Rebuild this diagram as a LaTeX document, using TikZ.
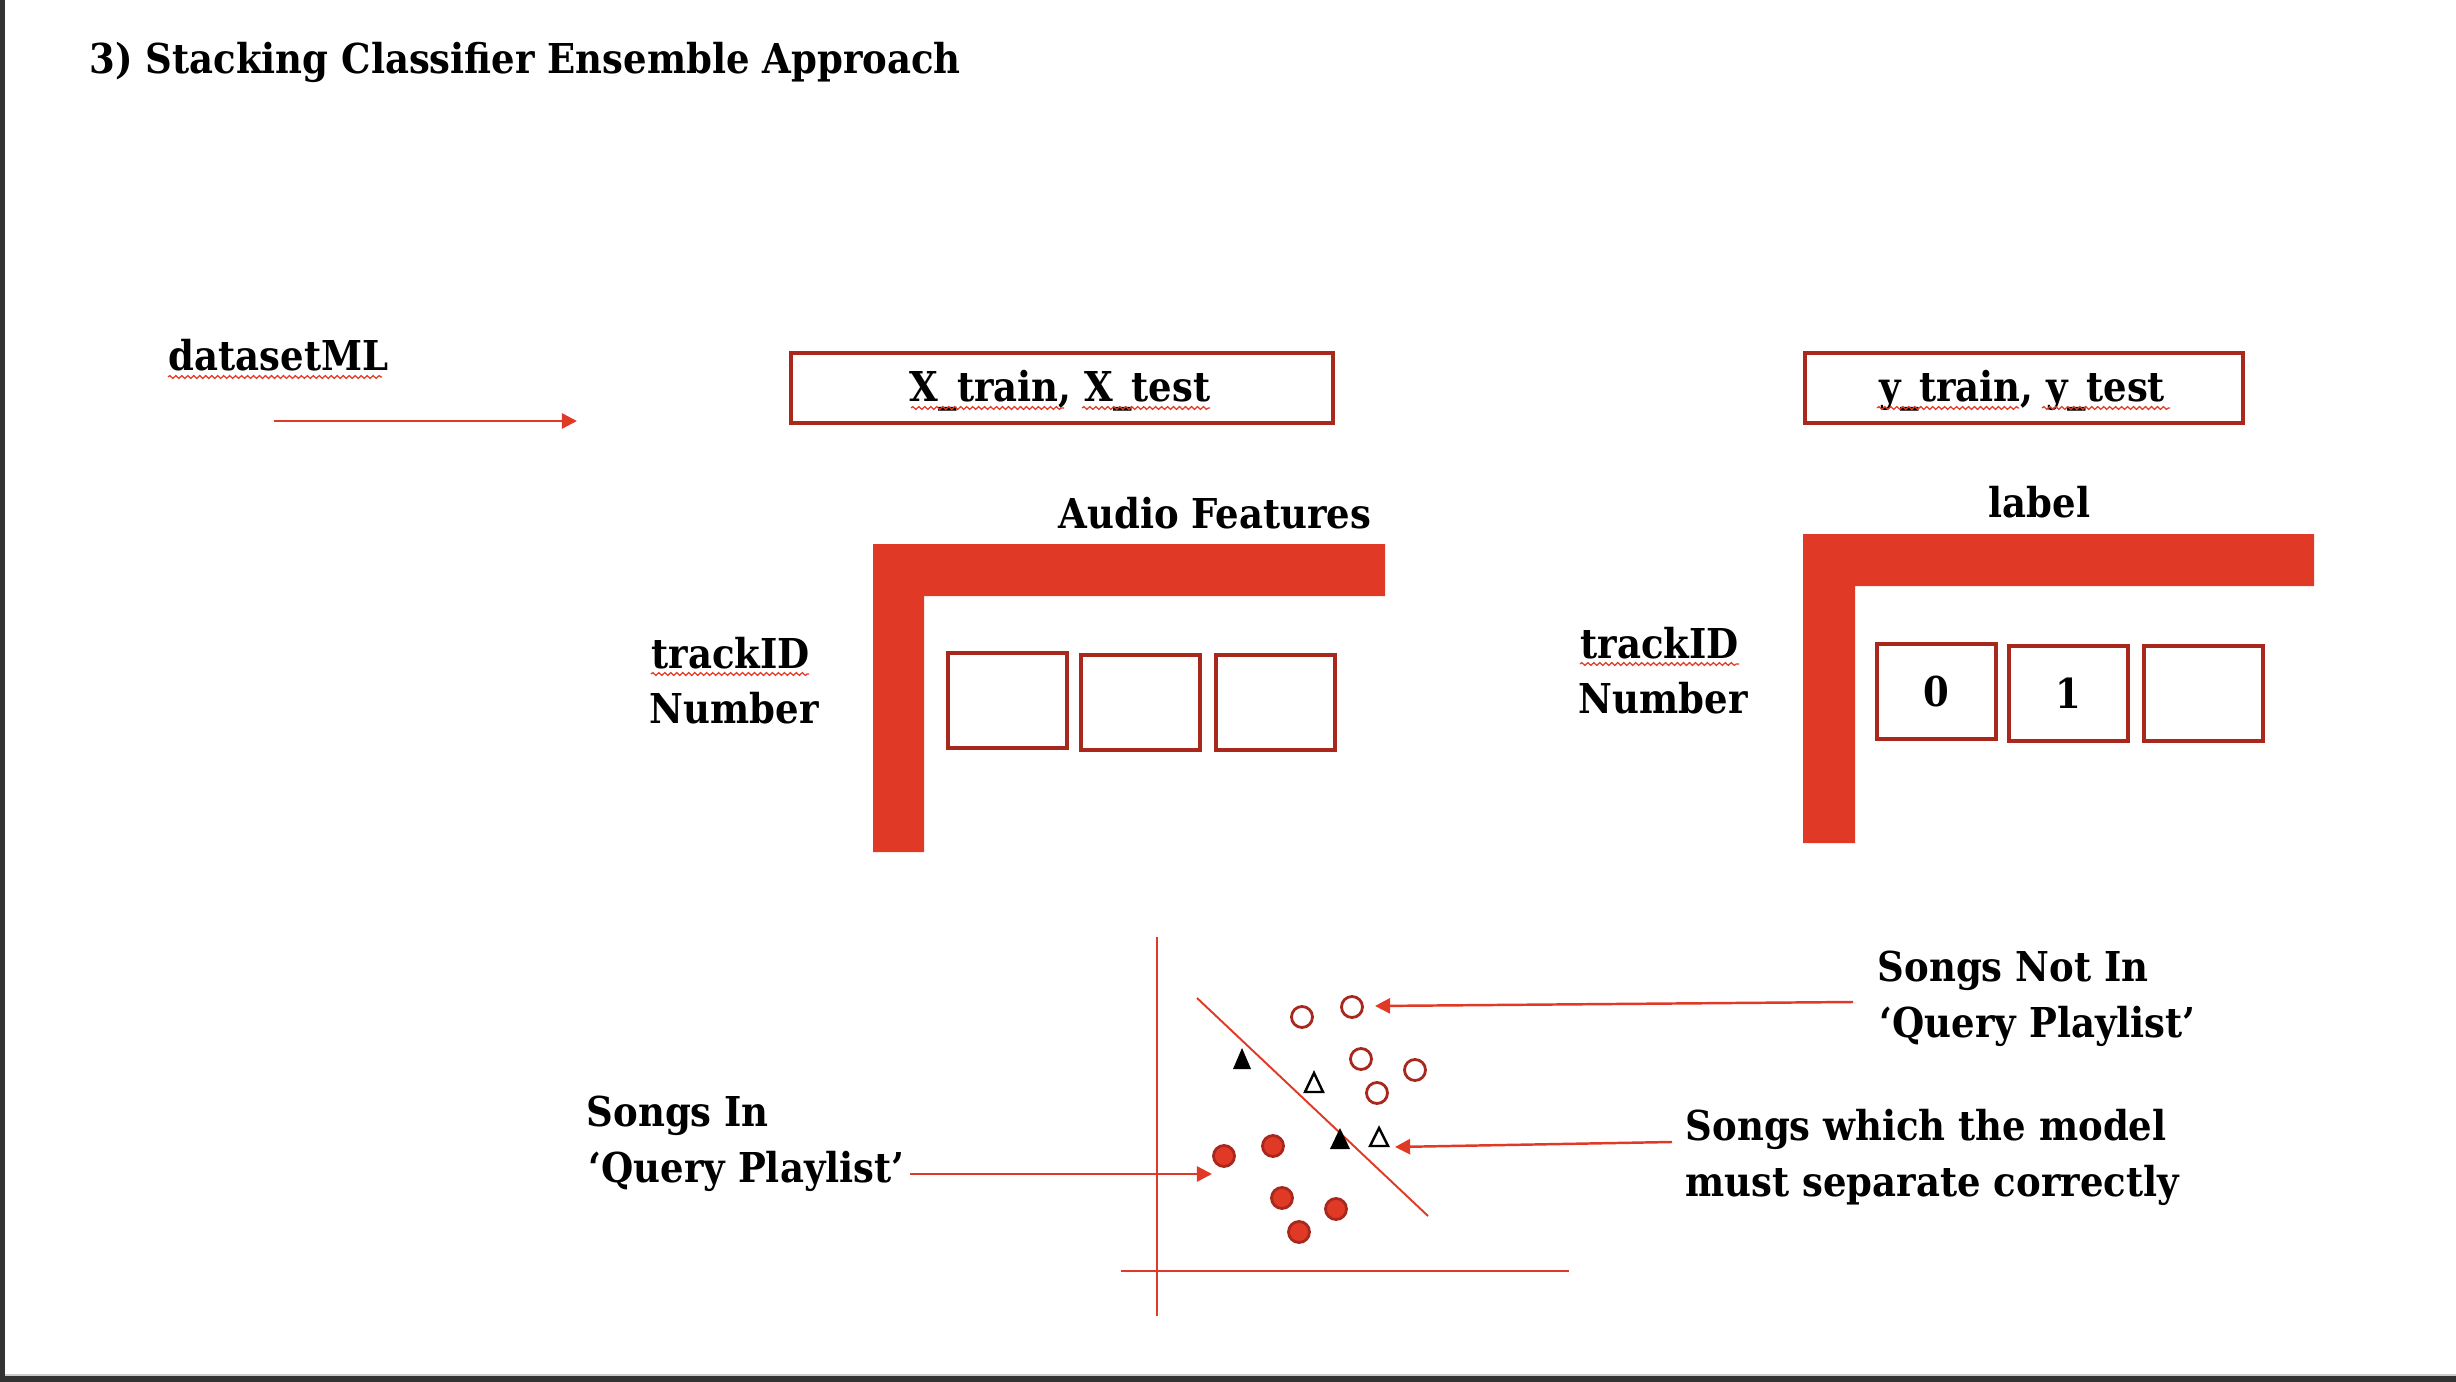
\documentclass[tikz,border=0pt]{standalone}
\usepackage{fontspec}
\setmainfont{DejaVu Serif Condensed}
\usetikzlibrary{arrows.meta,decorations.pathmorphing}
\definecolor{lred}{RGB}{224,58,38}
\definecolor{dred}{RGB}{168,40,30}
\definecolor{framegray}{RGB}{51,51,51}
\begin{document}
\begin{tikzpicture}[x=0.01cm,y=-0.01cm,
  txt/.style={anchor=base west,inner sep=0,font=\fontsize{11.7}{14}\selectfont\bfseries},
  ctxt/.style={txt,anchor=base},
  redline/.style={draw=lred,line width=0.7pt},
  arr/.style={redline,-{Triangle[length=4.3pt,width=4.3pt]}},
  cell/.style={draw=dred,line width=1pt,fill=white,inner sep=0,anchor=north west,
    minimum width=1.19cm,minimum height=0.95cm,font=\fontsize{11.7}{14}\selectfont\bfseries},
  hbox/.style={draw=dred,line width=1pt,inner sep=0,anchor=north west,minimum height=0.70cm},
  squig/.style={draw=lred,line width=0.35pt,decorate,decoration={snake,amplitude=0.4pt,segment length=1.7pt}},
  opendot/.style={draw=dred,line width=0.8pt,fill=white},
  fulldot/.style={draw=dred,line width=0.8pt,fill=lred},
  opentri/.style={draw=black,line width=0.7pt,fill=white,line join=miter},
  ]
\useasboundingbox (0,0) rectangle (2456,1382);
\fill[white] (0,0) rectangle (2456,1382);
\fill[framegray] (0,0) rectangle (5,1382);
\fill[framegray] (0,1376) rectangle (2456,1382);
\fill[gray!40] (5,1374) rectangle (2456,1376);

% title
\node[txt] (title) at (89,74) {3) Stacking Classifier Ensemble Approach};

% datasetML
\node[txt] (ds) at (168,370) {datasetML};
\draw[squig] (168,377) -- (382,377);
\coordinate (ds1) at (274,421);
\coordinate (ds2) at (577,421);
\draw[arr] (ds1) -- (ds2);

% X box
\node[hbox,minimum width=5.42cm] (xbox) at (789,351) {};
\node[ctxt] (xtxt) at (1060,402) {X\_train, X\_test};
\draw[squig] (911,408) -- (1064,408);
\draw[squig] (1082,408) -- (1210,408);

% y box
\node[hbox,minimum width=4.38cm] (ybox) at (1803,351) {};
\node[ctxt] (ytxt) at (2022,402) {y\_train, y\_test};
\draw[squig] (1877,408) -- (2019,408);
\draw[squig] (2042,408) -- (2170,408);

% left table
\fill[lred] (873,544) -- (1385,544) -- (1385,596) -- (924,596) -- (924,852) -- (873,852) -- cycle;
\node[txt] (audio) at (1058,528) {Audio Features};
\node[txt] (tid1) at (651,668) {trackID};
\draw[squig] (651,674) -- (809,674);
\node[txt] (num1) at (649,723) {Number};
\node[cell] (xc1) at (946,651) {};
\node[cell] (xc2) at (1079,653) {};
\node[cell] (xc3) at (1214,653) {};

% right table
\fill[lred] (1803,534) -- (2314,534) -- (2314,586) -- (1855,586) -- (1855,843) -- (1803,843) -- cycle;
\node[txt] (lab) at (1988,518) {label};
\node[txt] (tid2) at (1580,658) {trackID};
\draw[squig] (1580,664) -- (1739,664);
\node[txt] (num2) at (1578,713) {Number};
\node[cell] (yc1) at (1875,642) {0};
\node[cell] (yc2) at (2007,644) {1};
\node[cell] (yc3) at (2142,644) {};

% plot
\draw[lred,line width=0.55pt] (1157,937) -- (1157,1316);
\draw[lred,line width=0.85pt] (1121,1271) -- (1569,1271);
\draw[lred,line width=0.55pt] (1197,998) -- (1428,1216);

\draw[opendot] (1302,1017) circle[radius=10.5];
\draw[opendot] (1352,1007) circle[radius=10.5];
\draw[opendot] (1361,1059) circle[radius=10.5];
\draw[opendot] (1415,1070) circle[radius=10.5];
\draw[opendot] (1377,1093) circle[radius=10.5];

\draw[fulldot] (1224,1156) circle[radius=10.5];
\draw[fulldot] (1273,1146) circle[radius=10.5];
\draw[fulldot] (1282,1198) circle[radius=10.5];
\draw[fulldot] (1336,1209) circle[radius=10.5];
\draw[fulldot] (1299,1232) circle[radius=10.5];

\fill[black] (1233,1069) -- (1251,1069) -- (1242,1048) -- cycle;
\fill[black] (1330,1149) -- (1350,1149) -- (1340,1128) -- cycle;
\draw[opentri] (1305,1092) -- (1323,1092) -- (1314,1073) -- cycle;
\draw[opentri] (1370,1146) -- (1388,1146) -- (1379,1128) -- cycle;

% labels and arrows
\node[txt] (in1) at (586,1126) {Songs In};
\node[txt] (in2) at (588,1182) {‘Query Playlist’};
\coordinate (ina) at (910,1174);
\coordinate (inb) at (1212,1174);
\draw[arr] (ina) -- (inb);

\node[txt] (out1) at (1877,981) {Songs Not In};
\node[txt] (out2) at (1879,1037) {‘Query Playlist’};
\coordinate (outa) at (1853,1002);
\coordinate (outb) at (1375,1006);
\draw[arr] (outa) -- (outb);

\node[txt] (wh1) at (1685,1140) {Songs which the model};
\node[txt] (wh2) at (1685,1196) {must separate correctly};
\coordinate (wha) at (1672,1142);
\coordinate (whb) at (1395,1147);
\draw[arr] (wha) -- (whb);
\end{tikzpicture}
\end{document}
